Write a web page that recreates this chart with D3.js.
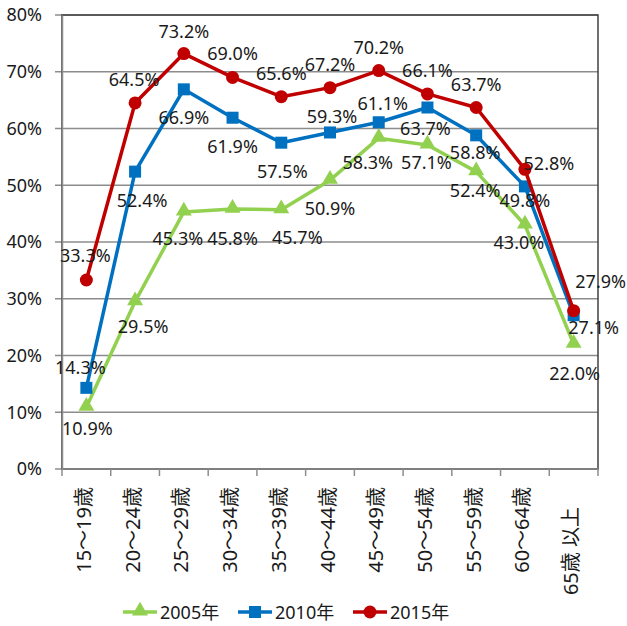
<!DOCTYPE html>
<html>
<head>
<meta charset="utf-8">
<script src="https://cdn.jsdelivr.net/npm/d3@7"></script>
<style>
  body { margin: 0; background: #fff; }
  text { font-family: "Noto Sans", "Noto Sans CJK JP", sans-serif; fill: #1a1a1a; }
</style>
</head>
<body>
<svg id="chart" width="627" height="626"></svg>
<script>
// age groups
var categories = ['15～19歳', '20～24歳', '25～29歳', '30～34歳', '35～39歳', '40～44歳',
  '45～49歳', '50～54歳', '55～59歳', '60～64歳', '65歳 以上　']
var seriesNames = ['2005年', '2010年', '2015年']
var values2005 = [10.9, 29.5, 45.3, 45.8, 45.7, 50.9, 58.3, 57.1, 52.4, 43.0, 22.0]
var values2010 = [14.3, 52.4, 66.9, 61.9, 57.5, 59.3, 61.1, 63.7, 58.8, 49.8, 27.1]
var values2015 = [33.3, 64.5, 73.2, 69.0, 65.6, 67.2, 70.2, 66.1, 63.7, 52.8, 27.9]
var yTicks = [0, 10, 20, 30, 40, 50, 60, 70, 80]

// label offsets from each point (layout only)
var labelPos2005 = [[1, 21], [8, 24], [-6, 26], [0, 29], [16, 27], [0, 28], [-11, 24], [-1, 17], [-1, 18], [-6, 17], [1, 29]]
var labelPos2010 = [[-6, -21], [7, 28], [0, 28], [0, 28], [1, 28], [2, -16], [4, -19], [-2, 20], [-1, 17], [0, 14], [20, 12]]
var labelPos2015 = [[-1, -25], [-1, -24], [0, -23], [0, -24], [0, -24], [0, -24], [0, -24], [0, -24], [0, -24], [24, -6], [27, -30]]

var series = [
  { name: seriesNames[0], values: values2005, labels: labelPos2005, color: '#92D050', marker: 'triangle' },
  { name: seriesNames[1], values: values2010, labels: labelPos2010, color: '#0070C0', marker: 'square' },
  { name: seriesNames[2], values: values2015, labels: labelPos2015, color: '#C00000', marker: 'circle' }
]

var plotLeft = 62, plotRight = 598, plotTop = 15, plotBottom = 469
var svg = d3.select('#chart')

var x = d3.scaleBand().domain(categories).range([plotLeft, plotRight]).paddingInner(0).paddingOuter(0)
var y = d3.scaleLinear().domain([0, 80]).range([plotBottom, plotTop])
var cx = function (c) { return x(c) + x.bandwidth() / 2 }

// gridlines
svg.append('g').selectAll('line')
  .data(yTicks)
  .enter()
  .append('line')
  .attr('x1', plotLeft - 7)
  .attr('x2', plotRight)
  .attr('y1', function (d) { return y(d) })
  .attr('y2', function (d) { return y(d) })
  .attr('stroke', '#8c8c8c')
  .attr('stroke-width', 1.5)

// plot border
svg.append('rect')
  .attr('x', plotLeft).attr('y', plotTop)
  .attr('width', plotRight - plotLeft).attr('height', plotBottom - plotTop)
  .attr('fill', 'none').attr('stroke', '#404040').attr('stroke-width', 1.5)

// y axis
var yAxis = d3.axisLeft(y).tickValues(yTicks).tickSize(0).tickPadding(20)
  .tickFormat(function (d) { return d + '%' })
var gy = svg.append('g').attr('transform', 'translate(' + plotLeft + ',0)').call(yAxis)
gy.select('.domain').attr('stroke', '#8c8c8c').attr('stroke-width', 1.5)
gy.selectAll('text').style('font-size', '18px').attr('fill', '#1a1a1a')
  .attr('font-family', null)

// x axis: ticks on band boundaries
var gx = svg.append('g')
gx.append('line')
  .attr('x1', plotLeft).attr('x2', plotRight).attr('y1', plotBottom).attr('y2', plotBottom)
  .attr('stroke', '#8c8c8c').attr('stroke-width', 1.5)
gx.selectAll('.tick')
  .data(categories.concat([null]))
  .enter()
  .append('line')
  .attr('x1', function (d, i) { return plotLeft + i * x.bandwidth() })
  .attr('x2', function (d, i) { return plotLeft + i * x.bandwidth() })
  .attr('y1', plotBottom)
  .attr('y2', plotBottom + 7)
  .attr('stroke', '#8c8c8c')
  .attr('stroke-width', 1.5)
gx.selectAll('text')
  .data(categories)
  .enter()
  .append('text')
  .attr('transform', function (d) { return 'translate(' + (cx(d) - 3) + ',' + (plotBottom + 18) + ') rotate(-90)' })
  .attr('text-anchor', 'end')
  .attr('dominant-baseline', 'central')
  .style('font-size', '20px')
  .style('white-space', 'pre')
  .text(function (d) { return d })

function drawMarker (g, type, color, px, py) {
  if (type === 'circle') {
    g.append('circle').attr('cx', px).attr('cy', py).attr('r', 6.5).attr('fill', color)
  } else if (type === 'square') {
    g.append('rect').attr('x', px - 6).attr('y', py - 6).attr('width', 12).attr('height', 12).attr('fill', color)
  } else {
    g.append('path').attr('d', d3.symbol().type(d3.symbolTriangle).size(110)()).attr('transform', 'translate(' + px + ',' + (py - 1) + ')').attr('fill', color)
  }
}

var line = d3.line()
  .x(function (d, i) { return cx(categories[i]) })
  .y(function (d) { return y(d) })

series.forEach(function (s) {
  var g = svg.append('g')
  g.append('path')
    .attr('d', line(s.values))
    .attr('fill', 'none')
    .attr('stroke', s.color)
    .attr('stroke-width', 3.5)
    .attr('stroke-linejoin', 'round')
  s.values.forEach(function (v, i) {
    drawMarker(g, s.marker, s.color, cx(categories[i]), y(v))
  })
})

// data labels on top
series.forEach(function (s) {
  svg.append('g').selectAll('text')
    .data(s.values)
    .enter()
    .append('text')
    .attr('x', function (d, i) { return cx(categories[i]) + s.labels[i][0] })
    .attr('y', function (d, i) { return y(d) + s.labels[i][1] })
    .attr('text-anchor', 'middle')
    .attr('dominant-baseline', 'central')
    .style('font-size', '18px')
    .text(function (d) { return d.toFixed(1) + '%' })
})

// legend
var legend = svg.append('g').attr('transform', 'translate(0,612)')
var legendX = [140, 255, 370]
series.forEach(function (s, i) {
  var g = legend.append('g')
  g.append('line')
    .attr('x1', legendX[i] - 17).attr('x2', legendX[i] + 17)
    .attr('y1', 0).attr('y2', 0)
    .attr('stroke', s.color).attr('stroke-width', 3.5)
  drawMarker(g, s.marker, s.color, legendX[i], 0)
  g.append('text')
    .attr('x', legendX[i] + 20)
    .attr('y', 0)
    .attr('dominant-baseline', 'central')
    .style('font-size', '18px')
    .text(s.name)
})
</script>
</body>
</html>
